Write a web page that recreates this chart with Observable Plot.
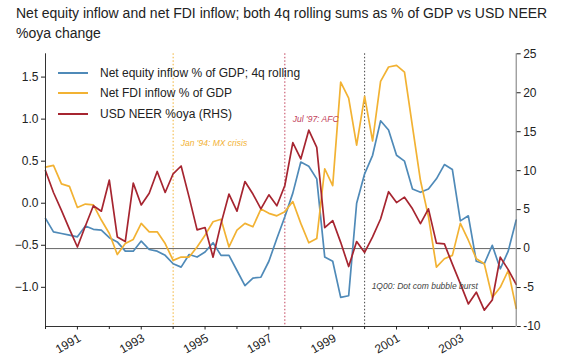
<!DOCTYPE html>
<html>
<head>
<meta charset="utf-8">
<script src="https://cdn.jsdelivr.net/npm/d3@7"></script>
<script src="https://cdn.jsdelivr.net/npm/@observablehq/plot@0.6"></script>
<style>
  html, body { margin: 0; padding: 0; background: #fff; }
  body { width: 564px; height: 363px; position: relative; overflow: hidden; font-family: "Liberation Sans", Arial, sans-serif; }
  #title { box-sizing: border-box; height: 44px; padding: 3px 0 0 16px; font-size: 14px; line-height: 20px; color: #222; white-space: nowrap; }
  #legend { position: absolute; left: 58px; top: 63px; font-size: 12px; color: #222; }
  #legend .row { display: flex; align-items: center; height: 20.3px; }
  #legend .sw { width: 30px; height: 2px; margin-right: 12px; }
  #chart svg { display: block; }
</style>
</head>
<body>
<div id="title">Net equity inflow and net FDI inflow; both 4q rolling sums as % of GDP vs USD NEER<br>%oya change</div>
<div id="chart"></div>
<div id="legend"></div>
<script>
// Quarterly observations starting 1990Q1
const startYear = 1990;
const equity = [-0.18,-0.34,-0.36,-0.38,-0.40,-0.27,-0.31,-0.32,-0.41,-0.46,
  -0.57,-0.57,-0.45,-0.55,-0.57,-0.62,-0.72,-0.76,-0.61,-0.64,
  -0.58,-0.47,-0.62,-0.62,-0.80,-0.98,-0.89,-0.88,-0.69,-0.42,
  -0.16,0.12,0.49,0.44,0.29,-0.64,-0.69,-1.12,-1.10,0.00,
  0.35,0.57,0.98,0.87,0.57,0.50,0.17,0.13,0.17,0.29,
  0.46,0.40,-0.21,-0.15,-0.69,-0.72,-0.50,-0.78,-0.57,-0.20];
const fdi = [0.43,0.45,0.23,0.20,-0.05,-0.01,-0.02,-0.20,-0.36,-0.61,
  -0.48,-0.43,-0.24,-0.34,-0.34,-0.48,-0.68,-0.64,-0.64,-0.52,
  -0.38,-0.22,-0.19,-0.52,-0.32,-0.24,-0.28,-0.07,-0.12,-0.15,
  -0.10,0.02,-0.24,-0.47,-0.42,0.41,0.21,1.44,1.25,0.69,
  1.27,0.74,1.45,1.62,1.64,1.56,0.91,0.27,-0.16,-0.76,
  -0.66,-0.62,-0.24,-0.44,-0.66,-0.72,-1.12,-1.00,-0.80,-1.25];
const neer = [10.0,7.2,4.9,2.5,0.2,2.9,5.5,4.8,8.8,1.5,
  0.9,8.4,5.6,7.1,9.9,7.2,9.6,10.6,6.6,2.4,
  2.7,-1.1,3.2,7.0,4.8,8.6,7.0,5.1,6.9,5.5,
  8.1,13.6,11.5,15.2,13.0,2.7,3.6,0.8,-2.3,0.9,
  -0.5,1.5,3.8,7.3,5.9,6.6,5.1,3.2,5.1,0.7,
  0.6,-2.0,-4.5,-7.1,-5.6,-7.9,-6.6,-1.1,-2.7,-4.6];

const seriesNames = ["Net equity inflow % of GDP; 4q rolling", "Net FDI inflow % of GDP", "USD NEER %oya (RHS)"];
const seriesColors = ["#4f8ab8", "#f2b233", "#a62530"];

const leftTicks = [-1.0, -0.5, 0.0, 0.5, 1.0, 1.5];
const rightTicks = [-10, -5, 0, 5, 10, 15, 20, 25];
const xMajorTicks = [1991, 1993, 1995, 1997, 1999, 2001, 2003];
const xMinorTicks = [1990, 1992, 1994, 1996, 1998, 2000, 2002, 2004];

const events = [1994.0, 1997.5, 2000.0];
const eventColors = ["#f2b233", "#c2415a", "#444"];
const annotations = ["Jan '94: MX crisis", "Jul '97: AFC", "1Q00: Dot com bubble burst"];
const annotationX = [1994.24, 1997.75, 2000.22];
const annotationY = [0.71, 1.0, -0.99];

// axis domains
const leftDomain = [-1.466, 1.777];
const rightDomain = [-10, 25];
const xDomain = [1990, 2004.75];
const toLeft = r => leftDomain[0] + (r - rightDomain[0]) / (rightDomain[1] - rightDomain[0]) * (leftDomain[1] - leftDomain[0]);
const fromLeft = l => rightDomain[0] + (l - leftDomain[0]) / (leftDomain[1] - leftDomain[0]) * (rightDomain[1] - rightDomain[0]);

const data = equity.map((e, i) => ({t: startYear + i / 4, equity: e, fdi: fdi[i], neer: neer[i]}));
const ann = annotations.map((a, i) => ({text: a, x: annotationX[i], y: annotationY[i], color: eventColors[i]}));
const evt = events.map((e, i) => ({x: e, color: eventColors[i]}));

const fmtLeft = d => (d < 0 ? "\u2212" : "") + Math.abs(d).toFixed(1);
const fmtRight = d => String(Math.round(fromLeft(d)));

const chart = Plot.plot({
  width: 564,
  height: 319,
  marginTop: 9.3,
  marginBottom: 37,
  marginLeft: 45,
  marginRight: 48.3,
  x: {domain: xDomain, axis: null},
  y: {domain: leftDomain, axis: null},
  style: {fontFamily: "'Liberation Sans', Arial, sans-serif", fontSize: "12px", background: "#fff", color: "#222"},
  marks: [
    Plot.ruleX(evt, {x: "x", stroke: "color", strokeWidth: 1, strokeDasharray: "1.5,2"}),
    Plot.ruleY([toLeft(0)], {stroke: "#666", strokeWidth: 1}),
    Plot.line(data, {x: "t", y: "equity", stroke: seriesColors[0], strokeWidth: 1.7}),
    Plot.line(data, {x: "t", y: "fdi", stroke: seriesColors[1], strokeWidth: 1.7}),
    Plot.line(data, {x: "t", y: d => toLeft(d.neer), stroke: seriesColors[2], strokeWidth: 1.7}),
    Plot.text(ann, {x: "x", y: "y", text: "text", fill: "color", textAnchor: "start", fontSize: 8.5, fontStyle: "italic"}),
    Plot.ruleX([xDomain[0]], {stroke: "#333", strokeWidth: 1}),
    Plot.ruleX([xDomain[1]], {stroke: "#777", strokeWidth: 1}),
    Plot.ruleY([leftDomain[0]], {stroke: "#333", strokeWidth: 1}),
    Plot.axisY(leftTicks, {anchor: "left", tickSize: 4, tickPadding: 3, tickFormat: fmtLeft, fontSize: 12}),
    Plot.axisY(rightTicks.map(toLeft), {anchor: "right", tickSize: 4, tickPadding: 3, tickFormat: fmtRight, fontSize: 12}),
    Plot.axisX(xMinorTicks, {anchor: "bottom", tickSize: 3, tickFormat: () => ""}),
    Plot.axisX(xMajorTicks, {anchor: "bottom", tickSize: 3.5, tickPadding: 3, tickRotate: -30, textAnchor: "end", lineAnchor: "top", tickFormat: d => String(d), fontSize: 12})
  ]
});
document.getElementById("chart").appendChild(chart);

const legend = document.getElementById("legend");
seriesNames.forEach((name, i) => {
  const row = document.createElement("div");
  row.className = "row";
  const sw = document.createElement("span");
  sw.className = "sw";
  sw.style.background = seriesColors[i];
  const label = document.createElement("span");
  label.textContent = name;
  row.appendChild(sw);
  row.appendChild(label);
  legend.appendChild(row);
});
</script>
</body>
</html>
